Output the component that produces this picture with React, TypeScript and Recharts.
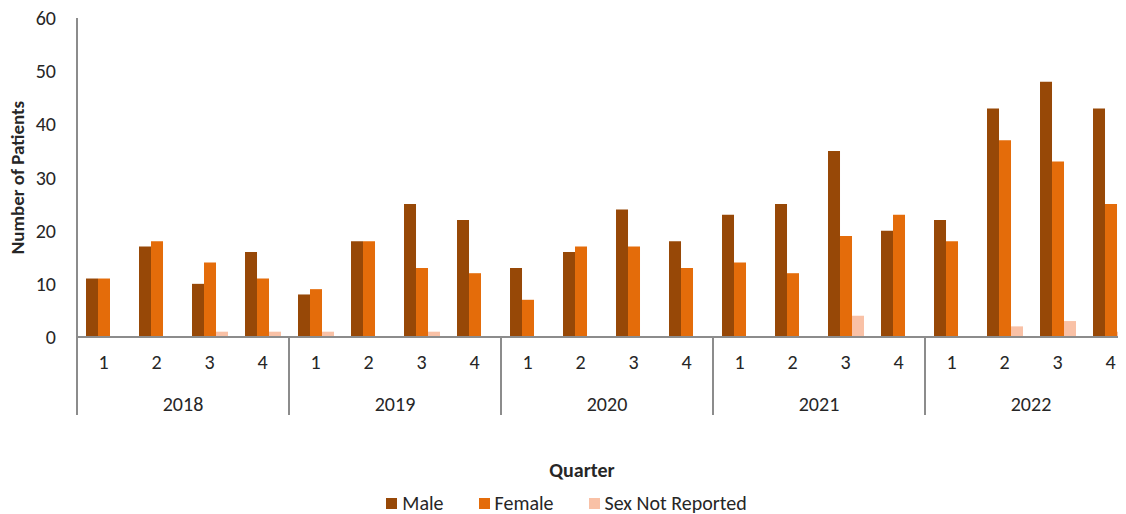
import { BarChart, Bar, XAxis, YAxis, Legend } from 'recharts'

const years = ['2018', '2019', '2020', '2021', '2022']
const quarters = ['1', '2', '3', '4']
const male = [11, 17, 10, 16, 8, 18, 25, 22, 13, 16, 24, 18, 23, 25, 35, 20, 22, 43, 48, 43]
const female = [11, 18, 14, 11, 9, 18, 13, 12, 7, 17, 17, 13, 14, 12, 19, 23, 18, 37, 33, 25]
const notReported = [0, 0, 1, 1, 1, 0, 1, 0, 0, 0, 0, 0, 0, 0, 4, 0, 0, 2, 3, 1]
const seriesNames = ['Male', 'Female', 'Sex Not Reported']
const yTicks = [0, 10, 20, 30, 40, 50, 60]

const data = male.map((m, i) => ({
  key: `${years[Math.floor(i / 4)]} Q${quarters[i % 4]}`,
  male: m,
  female: female[i],
  notReported: notReported[i],
}))

const FONT = 'Carlito, Lato, sans-serif'
const AXIS = '#8c8c8c'
const TEXT = '#262626'
const FS = 20

const CHART_W = 1140
const CHART_H = 506
const Y_W = 69
const RIGHT = 11
const BAND = (CHART_W - Y_W - RIGHT) / data.length
const Q_AXIS_H = 42

function QuarterTick({ x, y, index }: any) {
  return (
    <text x={x} y={y + 32} textAnchor="middle" fill={TEXT} fontSize={FS} fontFamily={FONT}>
      {quarters[index % 4]}
    </text>
  )
}

function YearTick({ x, y, index }: any) {
  const top = y - Q_AXIS_H
  return (
    <g>
      {index % 4 === 0 && (
        <line x1={x - BAND / 2} x2={x - BAND / 2} y1={top} y2={y + 36} stroke={AXIS} strokeWidth={2} />
      )}
      {index === data.length - 1 && (
        <line x1={x + BAND / 2} x2={x + BAND / 2} y1={top} y2={y + 36} stroke={AXIS} strokeWidth={2} />
      )}
      {index % 4 === 1 && (
        <text x={x + BAND / 2} y={y + 32} textAnchor="middle" fill={TEXT} fontSize={FS} fontFamily={FONT}>
          {years[Math.floor(index / 4)]}
        </text>
      )}
    </g>
  )
}

function YLabel({ viewBox }: any) {
  const cx = viewBox.x + 9
  const cy = viewBox.y + viewBox.height / 2
  return (
    <text
      x={cx}
      y={cy}
      transform={`rotate(-90, ${cx}, ${cy})`}
      textAnchor="middle"
      dominantBaseline="central"
      fontSize={19}
      fontWeight="bold"
      fontFamily={FONT}
      fill={TEXT}
    >
      Number of Patients
    </text>
  )
}

function QuarterLabel({ viewBox }: any) {
  return (
    <text
      x={viewBox.x + viewBox.width / 2 - 25}
      y={viewBox.y + 98}
      textAnchor="middle"
      fontSize={FS}
      fontWeight="bold"
      fontFamily={FONT}
      fill={TEXT}
    >
      Quarter
    </text>
  )
}

function LegendContent({ payload }: any) {
  const items = [...(payload || [])].sort(
    (a: any, b: any) => seriesNames.indexOf(a.value) - seriesNames.indexOf(b.value)
  )
  return (
    <div
      style={{
        display: 'flex',
        justifyContent: 'center',
        height: 22,
        lineHeight: '20px',
        paddingRight: 12,
        fontFamily: FONT,
        fontSize: FS,
        color: TEXT,
      }}
    >
      {items.map((p: any, i: number) => (
        <div key={p.value} style={{ display: 'flex', alignItems: 'center', marginRight: i < items.length - 1 ? 35 : 0 }}>
          <span style={{ width: 11, height: 11, background: p.color, display: 'inline-block', marginRight: 5 }} />
          <span>{p.value}</span>
        </div>
      ))}
    </div>
  )
}

export default function App() {
  return (
    <div style={{ width: 1118, overflow: 'hidden' }}>
      <style>{'html,body{overflow:hidden}'}</style>
      <BarChart
        width={CHART_W}
        height={CHART_H}
        data={data}
        margin={{ top: 10, right: RIGHT, left: 0, bottom: 0 }}
        barCategoryGap="17%"
        barGap={0}
      >
        <YAxis
          width={Y_W}
          domain={[0, 60]}
          ticks={yTicks}
          interval={0}
          tickLine={false}
          tickSize={0}
          tickMargin={21}
          axisLine={{ stroke: AXIS, strokeWidth: 2 }}
          tick={{ fill: TEXT, fontSize: FS, fontFamily: FONT }}
          label={<YLabel />}
        />
        <XAxis
          dataKey="key"
          height={Q_AXIS_H}
          interval={0}
          tickLine={false}
          tickSize={0}
          tickMargin={0}
          axisLine={{ stroke: AXIS, strokeWidth: 2 }}
          tick={<QuarterTick />}
        />
        <XAxis
          xAxisId="year"
          dataKey="key"
          height={113}
          interval={0}
          tickLine={false}
          tickSize={0}
          tickMargin={0}
          axisLine={false}
          tick={<YearTick />}
          label={<QuarterLabel />}
        />
        <Legend verticalAlign="bottom" content={<LegendContent />} />
        <Bar dataKey="male" name="Male" fill="#974807" isAnimationActive={false} />
        <Bar dataKey="female" name="Female" fill="#E46C0A" isAnimationActive={false} />
        <Bar dataKey="notReported" name="Sex Not Reported" fill="#F9C1A6" isAnimationActive={false} />
      </BarChart>
    </div>
  )
}
